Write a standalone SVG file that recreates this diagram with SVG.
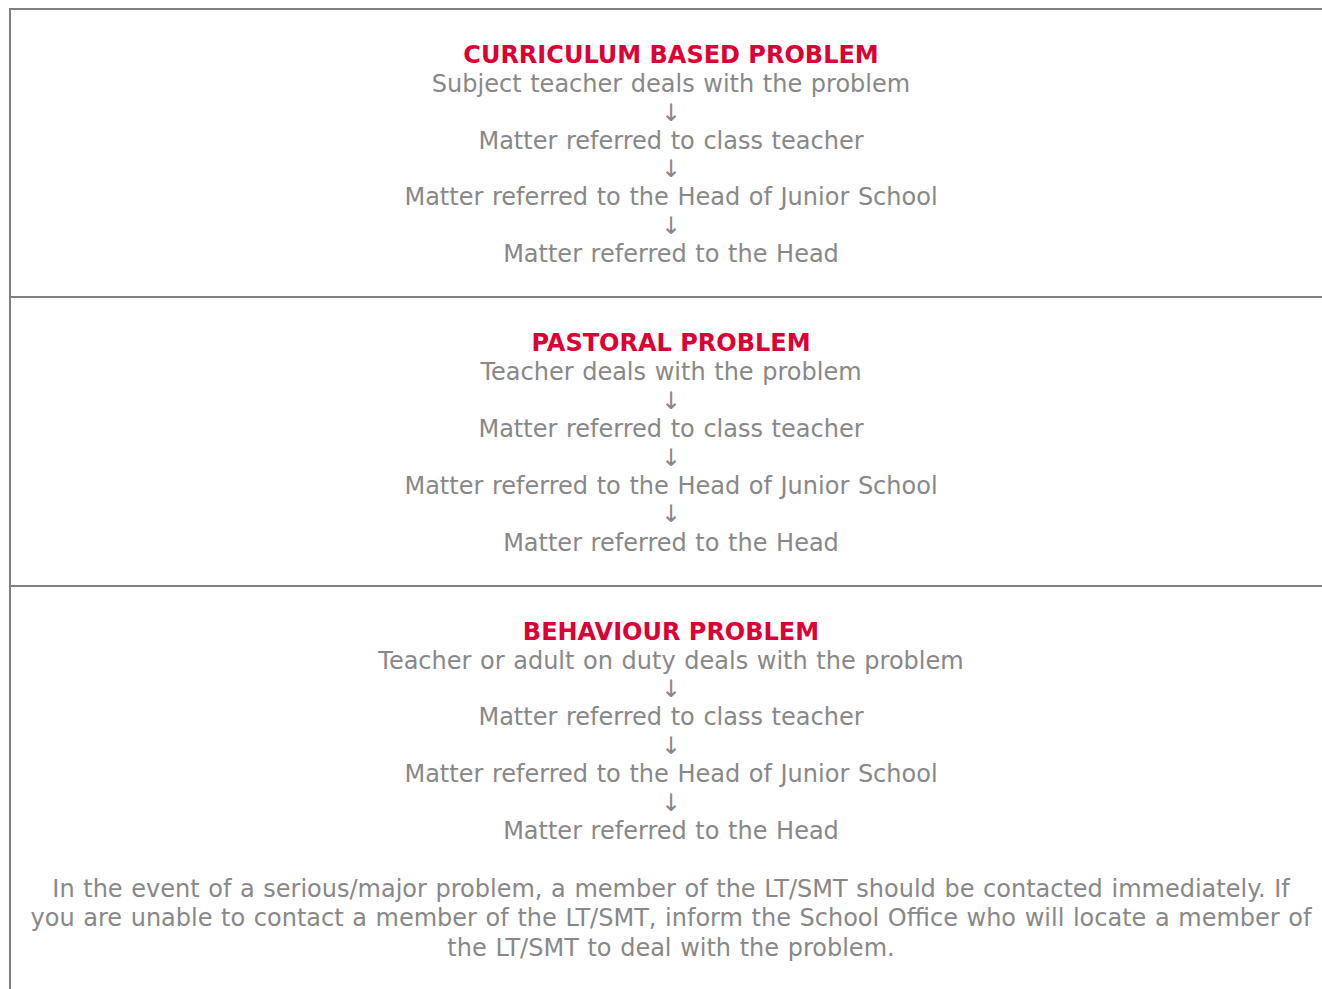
<svg xmlns="http://www.w3.org/2000/svg" width="1322" height="989" viewBox="0 0 1322 989">
  <style>
    .frame { fill: none; stroke: #808080; stroke-width: 2; }
    .title { font-family: "DejaVu Sans", Verdana, sans-serif; font-size: 24px; font-weight: bold; fill: #dc0035; text-anchor: middle; }
    .step { font-family: "DejaVu Sans", Verdana, sans-serif; font-size: 24px; fill: #888888; text-anchor: middle; word-spacing: 1px; }
    .arrow { font-family: "DejaVu Sans", sans-serif; font-size: 24px; fill: #888888; text-anchor: middle; }
  </style>
  <rect width="1322" height="989" fill="#ffffff"/>

  <!-- table frame and row dividers -->
  <g id="frame">
    <path class="frame" d="M1330 9 H10 V1000"/>
    <path class="frame" d="M10 297 H1330"/>
    <path class="frame" d="M10 586 H1330"/>
  </g>

  <!-- curriculum row -->
  <g id="curriculum">
    <text class="title" x="671" y="63">CURRICULUM BASED PROBLEM</text>
    <text class="step" x="671" y="92">Subject teacher deals with the problem</text>
    <text class="step" x="671" y="149">Matter referred to class teacher</text>
    <text class="step" x="671" y="205">Matter referred to the Head of Junior School</text>
    <text class="step" x="671" y="262">Matter referred to the Head</text>
  </g>

  <!-- pastoral row -->
  <g id="pastoral">
    <text class="title" x="671" y="351">PASTORAL PROBLEM</text>
    <text class="step" x="671" y="380">Teacher deals with the problem</text>
    <text class="step" x="671" y="437">Matter referred to class teacher</text>
    <text class="step" x="671" y="494">Matter referred to the Head of Junior School</text>
    <text class="step" x="671" y="551">Matter referred to the Head</text>
  </g>

  <!-- behaviour row -->
  <g id="behaviour">
    <text class="title" x="671" y="640">BEHAVIOUR PROBLEM</text>
    <text class="step" x="671" y="669">Teacher or adult on duty deals with the problem</text>
    <text class="step" x="671" y="725">Matter referred to class teacher</text>
    <text class="step" x="671" y="782">Matter referred to the Head of Junior School</text>
    <text class="step" x="671" y="839">Matter referred to the Head</text>
  </g>

  <!-- escalation note -->
  <g id="note">
    <text class="step" x="671" y="897">In the event of a serious/major problem, a member of the LT/SMT should be contacted immediately. If</text>
    <text class="step" x="671" y="926">you are unable to contact a member of the LT/SMT, inform the School Office who will locate a member of</text>
    <text class="step" x="671" y="956">the LT/SMT to deal with the problem.</text>
  </g>

  <!-- escalation arrows between steps -->
  <g id="connectors">
    <text class="arrow" x="671" y="121">↓</text>
    <text class="arrow" x="671" y="177">↓</text>
    <text class="arrow" x="671" y="234">↓</text>
    <text class="arrow" x="671" y="409">↓</text>
    <text class="arrow" x="671" y="466">↓</text>
    <text class="arrow" x="671" y="522">↓</text>
    <text class="arrow" x="671" y="697">↓</text>
    <text class="arrow" x="671" y="754">↓</text>
    <text class="arrow" x="671" y="811">↓</text>
  </g>
</svg>
